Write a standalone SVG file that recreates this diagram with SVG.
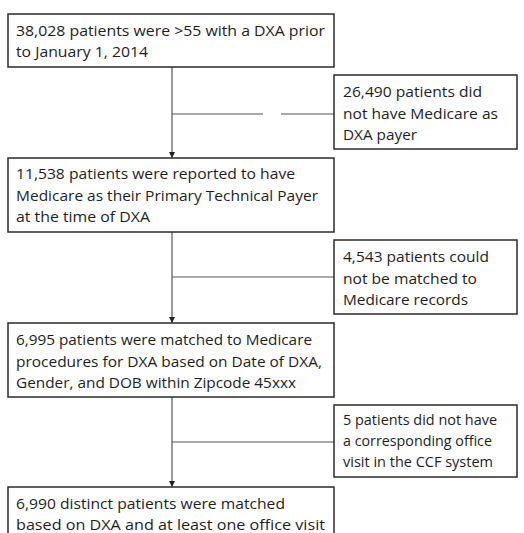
<svg xmlns="http://www.w3.org/2000/svg" width="524" height="533" viewBox="0 0 524 533">
<style>
.box{fill:#fff;stroke:#2b2b2b;stroke-width:1.5}
.t{font-family:"Open Sans","Liberation Sans",sans-serif;font-size:15px;fill:#1e1e1e}
.c{fill:none;stroke:#555;stroke-width:1.2}
</style>
<defs>
<marker id="ah" viewBox="0 0 10 10" refX="10" refY="5" markerWidth="6" markerHeight="6" markerUnits="userSpaceOnUse" orient="auto">
<path d="M0 0L10 5L0 10z" fill="#222"/>
</marker>
</defs>
<rect width="524" height="533" fill="#fff"/>
<g id="connectors">
<path class="c" d="M172 67V158" marker-end="url(#ah)"/>
<path class="c" d="M172 114H263M281 114H334"/>
<path class="c" d="M172 232V323" marker-end="url(#ah)"/>
<path class="c" d="M172 277H334"/>
<path class="c" d="M172 397V487" marker-end="url(#ah)"/>
<path class="c" d="M172 442H334"/>
</g>
<g id="n1">
<rect class="box" x="8" y="14" width="326" height="53"/>
<text class="t" x="16" y="36" textLength="309" lengthAdjust="spacingAndGlyphs">38,028 patients were &gt;55 with a DXA prior</text>
<text class="t" x="16" y="57" textLength="132" lengthAdjust="spacingAndGlyphs">to January 1, 2014</text>
</g>
<g id="s1">
<rect class="box" x="334" y="75" width="183" height="74"/>
<text class="t" x="343" y="97" textLength="139" lengthAdjust="spacingAndGlyphs">26,490 patients did</text>
<text class="t" x="343" y="118.5" textLength="155" lengthAdjust="spacingAndGlyphs">not have Medicare as</text>
<text class="t" x="343" y="140" textLength="74" lengthAdjust="spacingAndGlyphs">DXA payer</text>
</g>
<g id="n2">
<rect class="box" x="8" y="158" width="326" height="74"/>
<text class="t" x="16" y="179" textLength="279" lengthAdjust="spacingAndGlyphs">11,538 patients were reported to have</text>
<text class="t" x="16" y="200.5" textLength="302" lengthAdjust="spacingAndGlyphs">Medicare as their Primary Technical Payer</text>
<text class="t" x="16" y="222" textLength="134" lengthAdjust="spacingAndGlyphs">at the time of DXA</text>
</g>
<g id="s2">
<rect class="box" x="334" y="240" width="183" height="74"/>
<text class="t" x="343" y="262" textLength="146" lengthAdjust="spacingAndGlyphs">4,543 patients could</text>
<text class="t" x="343" y="283.5" textLength="134" lengthAdjust="spacingAndGlyphs">not be matched to</text>
<text class="t" x="343" y="305" textLength="125" lengthAdjust="spacingAndGlyphs">Medicare records</text>
</g>
<g id="n3">
<rect class="box" x="8" y="323" width="326" height="74"/>
<text class="t" x="16" y="345" textLength="296" lengthAdjust="spacingAndGlyphs">6,995 patients were matched to Medicare</text>
<text class="t" x="16" y="366.5" textLength="306" lengthAdjust="spacingAndGlyphs">procedures for DXA based on Date of DXA,</text>
<text class="t" x="16" y="388" textLength="280" lengthAdjust="spacingAndGlyphs">Gender, and DOB within Zipcode 45xxx</text>
</g>
<g id="s3">
<rect class="box" x="334" y="405" width="183" height="72"/>
<text class="t" x="343" y="425" textLength="154" lengthAdjust="spacingAndGlyphs">5 patients did not have</text>
<text class="t" x="343" y="446" textLength="149" lengthAdjust="spacingAndGlyphs">a corresponding office</text>
<text class="t" x="343" y="467" textLength="150" lengthAdjust="spacingAndGlyphs">visit in the CCF system</text>
</g>
<g id="n4">
<rect class="box" x="8" y="487" width="326" height="60"/>
<text class="t" x="16" y="509" textLength="269" lengthAdjust="spacingAndGlyphs">6,990 distinct patients were matched</text>
<text class="t" x="16" y="530" textLength="309" lengthAdjust="spacingAndGlyphs">based on DXA and at least one office visit</text>
</g>
</svg>
